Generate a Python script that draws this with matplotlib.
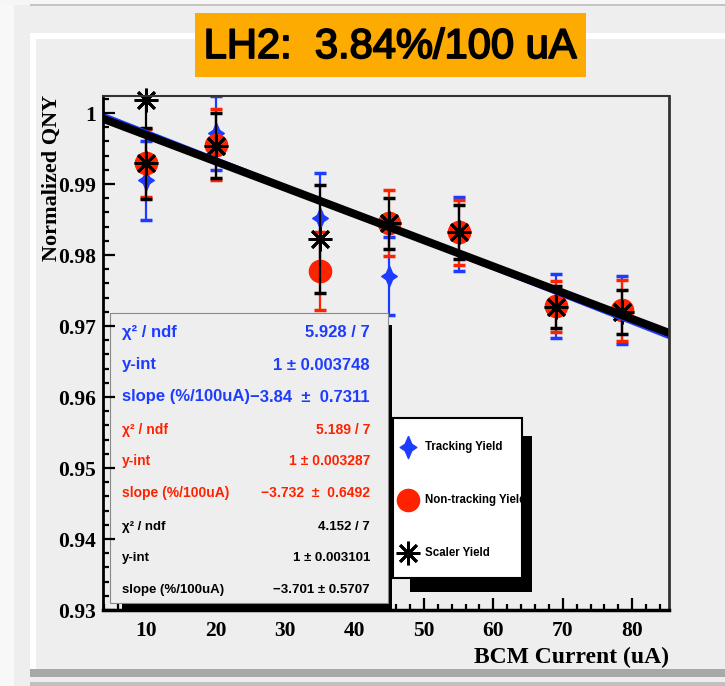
import matplotlib
matplotlib.use("Agg")
import matplotlib.pyplot as plt
import matplotlib.patheffects as pe
import numpy as np
from matplotlib.patches import Rectangle
from matplotlib.ticker import MultipleLocator, FixedLocator

W, H = 725, 686

# Data
x_track = [10, 20, 35, 45, 55, 69, 78.5]
y_track = [0.9905, 0.9972, 0.9852, 0.9770, 0.9830, 0.9728, 0.9722]
e_track = [0.0055, 0.0052, 0.0064, 0.0055, 0.0052, 0.0045, 0.0048]

x_nontrack = [10, 20, 35, 45, 55, 69, 78.5]
y_nontrack = [0.9930, 0.9955, 0.9777, 0.9845, 0.9832, 0.9728, 0.9722]
e_nontrack = [0.0048, 0.0050, 0.0055, 0.0046, 0.0046, 0.0036, 0.0043]

x_scaler = [10, 10, 20, 35, 45, 55, 69, 78.5]
y_scaler = [1.0019, 0.9929, 0.9954, 0.9822, 0.9845, 0.9832, 0.9727, 0.9720]
e_scaler = [0.0048, 0.0050, 0.0046, 0.0076, 0.0036, 0.0038, 0.0030, 0.0031]

# fit results: intercept, slope in %/100uA
fit_int = {"track": 1.0012, "nontrack": 1.0009, "scaler": 1.0006}
fit_slope = {"track": -3.84, "nontrack": -3.732, "scaler": -3.701}

stat_names = ["χ² / ndf", "y-int", "slope (%/100uA)"]
stats_track = ["5.928 / 7", "1 ± 0.003748", "−3.84  ±  0.7311"]
stats_nontrack = ["5.189 / 7", "1 ± 0.003287", "−3.732  ±  0.6492"]
stats_scaler = ["4.152 / 7", "1 ± 0.003101", "−3.701 ± 0.5707"]

legend_labels = ["Tracking Yield", "Non-tracking Yield", "Scaler Yield"]
y_tick_vals = [0.93, 0.94, 0.95, 0.96, 0.97, 0.98, 0.99, 1.0]
y_tick_labels = ["0.93", "0.94", "0.95", "0.96", "0.97", "0.98", "0.99", "1"]

BLUE = "#1e3cff"
RED = "#ff2200"
BG = "#eeeeee"


def fx(px):
    return px / W


def fy(py):
    return 1 - py / H


def prect(x0, y0, x1, y1, **kw):
    return Rectangle((fx(x0), fy(y1)), (x1 - x0) / W, (y1 - y0) / H, **kw)


star = [(0, 1), (0.3, 0.3), (0.75, 0), (0.3, -0.3), (0, -1),
        (-0.3, -0.3), (-0.75, 0), (-0.3, 0.3), (0, 1)]

fig = plt.figure(figsize=(W / 100, H / 100), dpi=100, facecolor=BG)

# canvas decoration
fig.add_artist(prect(0, 0, 14, H, color="#f8f8f8", lw=0))
fig.add_artist(prect(0, 0, W, 5, color="#f6f6f6", lw=0))
fig.add_artist(prect(30, 4, W, 6, color="#c4c4c4", lw=0))
fig.add_artist(prect(30, 33, W, 39, color="white", lw=0))
fig.add_artist(prect(30, 33, 36, 670, color="white", lw=0))
fig.add_artist(prect(30, 669, W, 677, color="#a8a8a8", lw=0))
fig.add_artist(prect(30, 682, W, 686, color="#c0c0c0", lw=0))

ax = fig.add_axes([fx(103), fy(610), (669 - 103) / W, (610 - 96) / H])
ax.set_facecolor(BG)
ax.set_xlim(3.8, 85.3)
ax.set_ylim(0.93, 1.0024)

# tracking
ax.errorbar(x_track, y_track, yerr=e_track, fmt="none", ecolor=BLUE,
            elinewidth=1.6, capsize=4.5, capthick=2.5, zorder=2.0)
ax.plot(x_track, y_track, ls="none", marker=star, ms=15, color=BLUE, zorder=2.05)
# non-tracking
ax.errorbar(x_nontrack, y_nontrack, yerr=e_nontrack, fmt="none", ecolor=RED,
            elinewidth=1.6, capsize=4.5, capthick=2.5, zorder=2.1)
ax.plot(x_nontrack, y_nontrack, ls="none", marker="o", ms=16, color=RED, zorder=2.15)
# scaler
ax.errorbar(x_scaler, y_scaler, yerr=e_scaler, fmt="none", ecolor="black",
            elinewidth=1.6, capsize=4.5, capthick=2.5, zorder=2.2)
ax.plot(x_scaler, y_scaler, ls="none", marker=(8, 2, 0), ms=17, mew=2,
        color="black", zorder=2.25, clip_on=False)

# fits
xf = np.array(ax.get_xlim())
ax.plot(xf, fit_int["track"] + fit_slope["track"] * xf / 1e4, color=BLUE, lw=3, zorder=2.3)
ax.plot(xf, fit_int["nontrack"] + fit_slope["nontrack"] * xf / 1e4, color=RED, lw=1.5, zorder=2.32)
ax.plot(xf, fit_int["scaler"] + fit_slope["scaler"] * xf / 1e4, color="black", lw=5.8, zorder=2.34)

# axes styling
ax.xaxis.set_major_locator(MultipleLocator(10))
ax.xaxis.set_minor_locator(MultipleLocator(2))
ax.yaxis.set_major_locator(FixedLocator(y_tick_vals))
ax.set_yticklabels(y_tick_labels)
ax.yaxis.set_minor_locator(MultipleLocator(0.002))
ax.tick_params(which="both", direction="in", top=False, right=False, width=1.6)
ax.tick_params(which="major", length=8.5)
ax.tick_params(which="minor", length=4.3)
ax.tick_params(axis="x", pad=8)
ax.tick_params(axis="y", pad=5)
for lab in ax.get_xticklabels() + ax.get_yticklabels():
    lab.set_fontfamily("Liberation Serif")
    lab.set_fontweight("bold")
    lab.set_fontsize(15.5)
ax.spines["left"].set_linewidth(2)
ax.spines["bottom"].set_linewidth(2.5)
ax.spines["top"].set_linewidth(1.5)
ax.spines["top"].set_color("#333333")
ax.spines["right"].set_linewidth(2)
ax.spines["right"].set_color("#333333")
for s in ax.spines.values():
    s.set_zorder(7)
ax.yaxis.set_zorder(6)

# stats box
T = fig.transFigure
ax.add_patch(prect(122, 325, 392, 609, color="black", lw=0, transform=T, clip_on=False, zorder=4))
ax.add_patch(prect(110, 313, 388, 603, facecolor=BG, edgecolor="#888888", lw=0.8,
                   transform=T, clip_on=False, zorder=5))
groups = [(stats_track, BLUE, 12.0, [333, 365, 397]),
          (stats_nontrack, RED, 10.0, [430, 461, 493]),
          (stats_scaler, "black", 9.5, [527, 558, 590])]
for vals, col, fs, rows in groups:
    for name, val, yy in zip(stat_names, vals, rows):
        ax.text(fx(122), fy(yy), name, transform=T, color=col, fontsize=fs,
                fontweight="bold", family="Liberation Sans", ha="left", va="center", zorder=8)
        ax.text(fx(370), fy(yy), val, transform=T, color=col, fontsize=fs,
                fontweight="bold", family="Liberation Sans", ha="right", va="center", zorder=8)

# legend box
ax.add_patch(prect(410, 436, 532, 592, color="black", lw=0, transform=T, clip_on=False, zorder=8))
leg = prect(393, 418, 522, 578, facecolor="white", edgecolor="black", lw=1.5,
            transform=T, clip_on=False, zorder=8.5)
ax.add_patch(leg)
leg_y = [447, 500, 553]
ax.plot([fx(408)], [fy(leg_y[0])], marker=star, ms=16, color=BLUE, transform=T,
        clip_on=False, zorder=9)
ax.plot([fx(408)], [fy(leg_y[1])], marker="o", ms=16, color=RED, transform=T,
        clip_on=False, zorder=9)
ax.plot([fx(408)], [fy(leg_y[2])], marker=(8, 2, 0), ms=17, mew=2, color="black",
        transform=T, clip_on=False, zorder=9)
for lab, yy in zip(legend_labels, leg_y):
    t = ax.text(fx(425), fy(yy), lab, transform=T, fontsize=8.3, fontweight="bold",
                family="Liberation Sans", ha="left", va="center", zorder=9)
    t.set_clip_path(leg)

# axis titles
fig.text(fx(52), fy(95), "Normalized QNY", rotation=90, ha="center", va="top",
         family="Liberation Serif", fontweight="bold", fontsize=16)
fig.text(fx(669), fy(657), "BCM Current (uA)", ha="right", va="center",
         family="Liberation Serif", fontweight="bold", fontsize=17)

# headline
fig.add_artist(prect(195, 13, 586, 77, color="#fdab00", lw=0))
fig.text(fx(390), fy(47), "LH2:  3.84%/100 uA", ha="center", va="center",
         family="Liberation Sans", fontsize=30,
         path_effects=[pe.withStroke(linewidth=1.3, foreground="black")])

fig.savefig("out.png", dpi=100, facecolor=BG)
